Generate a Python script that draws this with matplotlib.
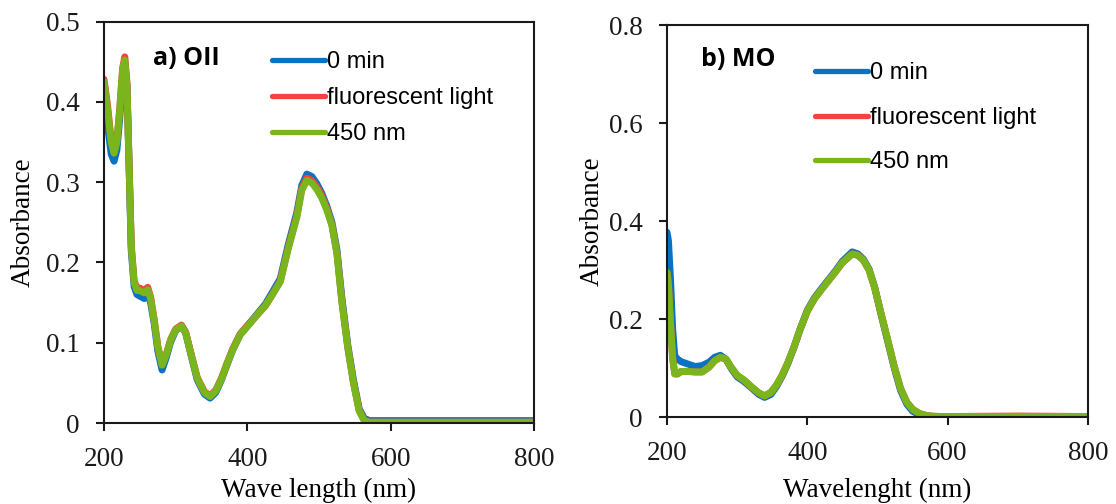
import matplotlib
matplotlib.use("Agg")
import matplotlib.pyplot as plt

# --- data ---
series_names = ["0 min", "fluorescent light", "450 nm"]
series_colors = ["#0a72c2", "#f4433c", "#7ab51d"]

# a) OII
wl_oii = [200, 205, 210, 214, 218, 222, 226, 229, 232, 235,
          238, 242, 246, 250, 256, 261, 265, 270, 275, 281,
          287, 293, 300, 308, 314, 321, 330, 340, 348, 356,
          364, 371, 380, 390, 400, 413, 425, 435, 446, 457,
          469, 476, 483, 490, 497, 504, 511, 518, 525, 532,
          540, 548, 556, 563, 570, 600, 700, 800]
oii_0min = [0.400, 0.370, 0.335, 0.326, 0.340, 0.380, 0.430, 0.448, 0.420, 0.320,
            0.215, 0.170, 0.160, 0.158, 0.155, 0.160, 0.150, 0.124, 0.090, 0.066,
            0.082, 0.101, 0.115, 0.121, 0.112, 0.086, 0.054, 0.036, 0.031, 0.038,
            0.054, 0.071, 0.092, 0.110, 0.121, 0.135, 0.148, 0.163, 0.180, 0.222,
            0.262, 0.296, 0.310, 0.307, 0.298, 0.286, 0.270, 0.250, 0.216, 0.155,
            0.098, 0.054, 0.018, 0.006, 0.003, 0.003, 0.003, 0.003]
oii_fluo = [0.428, 0.395, 0.352, 0.338, 0.352, 0.392, 0.442, 0.456, 0.424, 0.322,
            0.222, 0.177, 0.168, 0.168, 0.165, 0.169, 0.157, 0.129, 0.096, 0.073,
            0.086, 0.104, 0.117, 0.122, 0.113, 0.088, 0.057, 0.039, 0.034, 0.041,
            0.056, 0.073, 0.093, 0.111, 0.121, 0.134, 0.146, 0.160, 0.177, 0.218,
            0.258, 0.292, 0.305, 0.302, 0.294, 0.283, 0.267, 0.247, 0.212, 0.151,
            0.095, 0.051, 0.016, 0.004, 0.001, 0.001, 0.001, 0.001]
oii_450 = [0.425, 0.390, 0.350, 0.336, 0.350, 0.390, 0.440, 0.452, 0.420, 0.320,
           0.220, 0.175, 0.165, 0.165, 0.162, 0.166, 0.155, 0.128, 0.095, 0.072,
           0.085, 0.103, 0.116, 0.121, 0.112, 0.087, 0.056, 0.038, 0.033, 0.040,
           0.055, 0.072, 0.092, 0.110, 0.120, 0.134, 0.146, 0.160, 0.176, 0.217,
           0.256, 0.290, 0.302, 0.299, 0.291, 0.280, 0.265, 0.246, 0.211, 0.150,
           0.095, 0.050, 0.015, 0.003, 0.001, 0.001, 0.001, 0.001]

# b) MO
wl_mo = [200, 202, 205, 208, 211, 215, 220, 230, 240, 250,
         260, 268, 276, 284, 292, 300, 310, 320, 330, 339,
         348, 356, 364, 372, 381, 390, 400, 410, 420, 430,
         440, 450, 464, 472, 480, 488, 496, 505, 515, 524,
         533, 542, 550, 560, 570, 580, 590, 600, 700, 800]
mo_0min = [0.377, 0.360, 0.280, 0.180, 0.125, 0.118, 0.113, 0.108, 0.103, 0.105,
           0.112, 0.122, 0.126, 0.118, 0.098, 0.082, 0.072, 0.060, 0.047, 0.040,
           0.046, 0.062, 0.083, 0.108, 0.142, 0.180, 0.218, 0.243, 0.262, 0.280,
           0.298, 0.318, 0.337, 0.333, 0.322, 0.302, 0.265, 0.210, 0.152, 0.100,
           0.054, 0.026, 0.012, 0.004, 0.001, 0.000, 0.000, 0.000, 0.000, 0.000]
mo_fluo = [0.295, 0.270, 0.190, 0.120, 0.088, 0.088, 0.093, 0.093, 0.092, 0.092,
           0.102, 0.115, 0.122, 0.118, 0.100, 0.085, 0.075, 0.062, 0.050, 0.043,
           0.050, 0.065, 0.085, 0.110, 0.143, 0.180, 0.216, 0.241, 0.260, 0.278,
           0.296, 0.315, 0.333, 0.330, 0.320, 0.300, 0.264, 0.212, 0.155, 0.103,
           0.058, 0.030, 0.016, 0.007, 0.003, 0.0015, 0.001, 0.001, 0.002, 0.001]
mo_450 = [0.295, 0.270, 0.190, 0.120, 0.088, 0.088, 0.093, 0.093, 0.092, 0.092,
          0.102, 0.115, 0.122, 0.118, 0.100, 0.085, 0.075, 0.062, 0.050, 0.043,
          0.050, 0.065, 0.085, 0.110, 0.143, 0.180, 0.216, 0.241, 0.260, 0.278,
          0.296, 0.315, 0.333, 0.330, 0.320, 0.300, 0.264, 0.212, 0.155, 0.103,
          0.058, 0.030, 0.016, 0.007, 0.003, 0.0015, 0.001, 0.001, 0.001, 0.001]

x_ticks = [200, 400, 600, 800]
oii_yticks = [0, 0.1, 0.2, 0.3, 0.4, 0.5]
oii_ylabels = ["0", "0.1", "0.2", "0.3", "0.4", "0.5"]
mo_yticks = [0, 0.2, 0.4, 0.6, 0.8]
mo_ylabels = ["0", "0.2", "0.4", "0.6", "0.8"]

serif = "Liberation Serif"
sans = "Liberation Sans"

fig = plt.figure(figsize=(11.16, 5.04), dpi=100)
ax1 = fig.add_axes([0.0932, 0.1607, 0.3853, 0.7966])
ax2 = fig.add_axes([0.5977, 0.1726, 0.3771, 0.7777])


def style_axes(ax, yticks, ylabels, ylim, xlabel, xpad, ypad):
    ax.set_xlim(200, 800)
    ax.set_ylim(*ylim)
    ax.set_xticks(x_ticks)
    ax.set_xticklabels([str(t) for t in x_ticks], family=serif, fontsize=19.5)
    ax.set_yticks(yticks)
    ax.set_yticklabels(ylabels, family=serif, fontsize=19.5)
    ax.tick_params(direction="out", length=6, width=1.5, pad=11.5, colors="#1a1a1a")
    for sp in ax.spines.values():
        sp.set_linewidth(1.5)
        sp.set_color("#1a1a1a")
    ax.set_xlabel(xlabel, family=serif, fontsize=19.5, labelpad=xpad)
    ax.set_ylabel("Absorbance", family=serif, fontsize=19.5, labelpad=ypad)


for ax, wl, ys in [(ax1, wl_oii, [oii_0min, oii_fluo, oii_450]),
                   (ax2, wl_mo, [mo_0min, mo_fluo, mo_450])]:
    for y, name, col in zip(ys, series_names, series_colors):
        ax.plot(wl, y, color=col, lw=5, label=name,
                solid_joinstyle="round", solid_capstyle="round")

style_axes(ax1, oii_yticks, oii_ylabels, (0, 0.5), "Wave length (nm)", 4.3, 7)
style_axes(ax2, mo_yticks, mo_ylabels, (0, 0.8), "Wavelenght (nm)", 8.6, 3)

# legends without frame, sitting inside each panel
leg_kw = dict(frameon=False, handlelength=2.25, handletextpad=0.08,
              borderpad=0, borderaxespad=0, loc="upper left",
              bbox_transform=fig.transFigure,
              prop={"family": sans, "size": 17})
l1 = ax1.legend(bbox_to_anchor=(0.2437, 0.8985), labelspacing=0.60, **leg_kw)
l2 = ax2.legend(bbox_to_anchor=(0.7303, 0.8760), labelspacing=0.95, **leg_kw)
for leg in (l1, l2):
    for h in leg.get_lines():
        h.set_linewidth(3.8)

fig.text(0.137, 0.883, "a) OII", family="Open Sans", fontweight="bold",
         fontsize=18, va="center", ha="left")
fig.text(0.628, 0.881, "b) MO", family="Open Sans", fontweight="bold",
         fontsize=18, va="center", ha="left")

fig.savefig("out.png", dpi=100)
